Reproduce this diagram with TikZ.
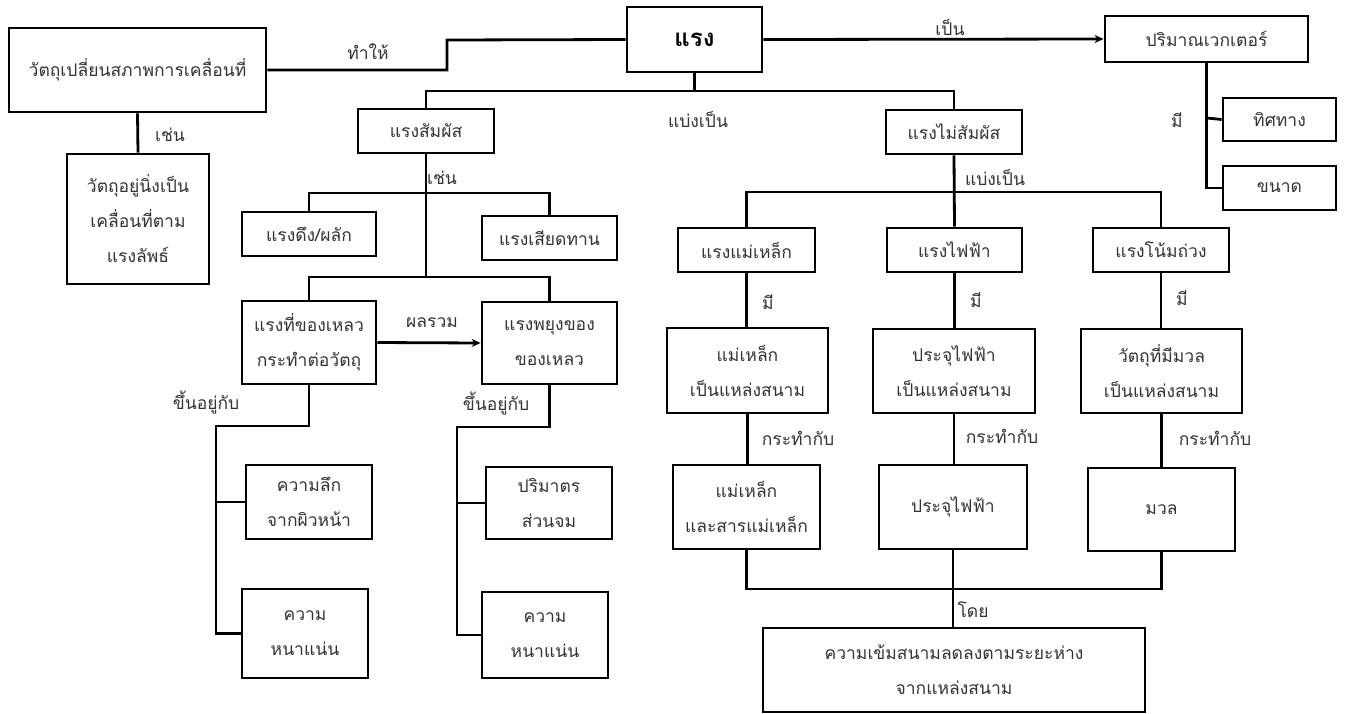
\documentclass[tikz,border=0pt]{standalone}
\usepackage{fontspec}
\newfontfamily\thaifont[Script=Thai]{Loma}
\usetikzlibrary{arrows.meta,calc}
\begin{document}
\begin{tikzpicture}[x=1pt,y=-1pt,
  box/.style={draw=black,line width=2.8pt,inner sep=0pt,align=center,
    text=black!80,font=\thaifont\fontsize{17.5}{35}\selectfont},
  lbl/.style={text=black!80,font=\thaifont\fontsize{17.5}{20}\selectfont,inner sep=1pt},
  conn/.style={line width=2.8pt},
  arr/.style={line width=2.8pt,-{Stealth[length=9pt,width=8pt]}}]
\useasboundingbox (0,0) rectangle (1346,713);
% nodes
\node[box,minimum width=257,minimum height=84] (obj) at (137.5,70) {วัตถุเปลี่ยนสภาพการเคลื่อนที่};
\node[box,minimum width=142,minimum height=130] (still) at (138,219) {วัตถุอยู่นิ่งเป็น\\เคลื่อนที่ตาม\\แรงลัพธ์};
\node[box,minimum width=135,minimum height=65,text=black,font=\thaifont\bfseries\fontsize{24}{28}\selectfont] (force) at (694.5,39.5) {แรง};
\node[box,minimum width=203,minimum height=46] (vector) at (1206.5,39) {ปริมาณเวกเตอร์};
\node[box,minimum width=113,minimum height=43] (dir) at (1279.5,119.5) {ทิศทาง};
\node[box,minimum width=113,minimum height=44] (mag) at (1279.5,188) {ขนาด};
\node[box,minimum width=136,minimum height=44] (contact) at (426,131) {แรงสัมผัส};
\node[box,minimum width=136,minimum height=44] (noncontact) at (954,132) {แรงไม่สัมผัส};
\node[box,minimum width=134,minimum height=44] (pushpull) at (309,234) {แรงดึง/ผลัก};
\node[box,minimum width=135,minimum height=44] (friction) at (549.5,238) {แรงเสียดทาน};
\node[box,minimum width=134,minimum height=83] (fluid) at (309,342.5) {แรงที่ของเหลว\\กระทำต่อวัตถุ};
\node[box,minimum width=135,minimum height=82] (buoy) at (549.5,343) {แรงพยุงของ\\ของเหลว};
\node[box,minimum width=126,minimum height=74] (depth) at (309,502) {ความลึก\\จากผิวหน้า};
\node[box,minimum width=126,minimum height=89] (dens1) at (305,633.5) {ความ\\หนาแน่น};
\node[box,minimum width=126,minimum height=72] (volume) at (549,503) {ปริมาตร\\ส่วนจม};
\node[box,minimum width=126,minimum height=86] (dens2) at (545,635) {ความ\\หนาแน่น};
\node[box,minimum width=137,minimum height=44] (magF) at (746.5,250) {แรงแม่เหล็ก};
\node[box,minimum width=135,minimum height=44] (elecF) at (954.5,250) {แรงไฟฟ้า};
\node[box,minimum width=136,minimum height=44] (gravF) at (1161,250) {แรงโน้มถ่วง};
\node[box,minimum width=161,minimum height=85] (magsrc) at (747.5,370.5) {แม่เหล็ก\\เป็นแหล่งสนาม};
\node[box,minimum width=162,minimum height=84] (elecsrc) at (954,371) {ประจุไฟฟ้า\\เป็นแหล่งสนาม};
\node[box,minimum width=161,minimum height=84] (masssrc) at (1161.5,371) {วัตถุที่มีมวล\\เป็นแหล่งสนาม};
\node[box,minimum width=147,minimum height=84] (magchg) at (746.5,507) {แม่เหล็ก\\และสารแม่เหล็ก};
\node[box,minimum width=148,minimum height=84] (elecchg) at (953,507) {ประจุไฟฟ้า};
\node[box,minimum width=147,minimum height=83] (mass) at (1161.5,509.5) {มวล};
\node[box,minimum width=382,minimum height=84] (field) at (954,670) {ความเข้มสนามลดลงตามระยะห่าง\\จากแหล่งสนาม};
% junction coordinates
\coordinate (j1) at (447,40);
\coordinate (j2) at (694.5,91);
\coordinate (j3) at (426,193);
\coordinate (j4) at (426,277);
\coordinate (j5) at (954,192);
\coordinate (k1) at (216,426);
\coordinate (k2) at (457,427);
\coordinate (m1) at (953,589);
\coordinate (v1) at (1207,118);
% connectors
\draw[conn] (obj.east) -| (j1) -- (force.west);
\draw[arr] (force.east) -- (vector.west);
\draw[conn] (obj.south) -- (still.north);
\draw[conn] (vector.south) |- (mag.west);
\draw[conn] (v1) -- (dir.west);
\draw[conn] (force.south) -- (j2);
\draw[conn] (contact.north) |- (j2) -| (noncontact.north);
\draw[conn] (contact.south) -- (j4);
\draw[conn] (pushpull.north) |- (j3) -| (friction.north);
\draw[conn] (fluid.north) |- (j4) -| (buoy.north);
\draw[arr] (fluid.east) -- (buoy.west);
\draw[conn] (fluid.south) |- (k1) |- (dens1.west);
\draw[conn] (depth.west) -- (depth.west -| k1);
\draw[conn] (buoy.south) |- (k2) |- (dens2.west);
\draw[conn] (volume.west) -- (volume.west -| k2);
\draw[conn] (noncontact.south) -- (elecF.north);
\draw[conn] (magF.north) |- (j5) -| (gravF.north);
\draw[conn] (magF.south) -- (magsrc.north -| magF.south);
\draw[conn] (magsrc.south) -- (magchg.north -| magsrc.south);
\draw[conn] (elecF.south) -- (elecsrc.north -| elecF.south);
\draw[conn] (elecsrc.south) -- (elecchg.north -| elecsrc.south);
\draw[conn] (gravF.south) -- (masssrc.north -| gravF.south);
\draw[conn] (masssrc.south) -- (mass.north -| masssrc.south);
\draw[conn] (magchg.south) |- (m1) -| (mass.south);
\draw[conn] (elecchg.south) -- (field.north -| elecchg.south);
% labels
\node[lbl] (t1) at (368,52) {ทำให้};
\node[lbl] (t2) at (950,27) {เป็น};
\node[lbl] (t3) at (170,135) {เช่น};
\node[lbl] (t4) at (698,119) {แบ่งเป็น};
\node[lbl] (t5) at (442,178) {เช่น};
\node[lbl] (t6) at (995,177) {แบ่งเป็น};
\node[lbl] (t7) at (1177,120) {มี};
\node[lbl] (t8) at (432,323) {ผลรวม};
\node[lbl] (t9) at (206,403) {ขึ้นอยู่กับ};
\node[lbl] (t10) at (496,404) {ขึ้นอยู่กับ};
\node[lbl] (t11) at (768,302) {มี};
\node[lbl] (t12) at (976,300) {มี};
\node[lbl] (t13) at (1182,298) {มี};
\node[lbl] (t14) at (798,438) {กระทำกับ};
\node[lbl] (t15) at (1002,436) {กระทำกับ};
\node[lbl] (t16) at (1215,438) {กระทำกับ};
\node[lbl] (t17) at (973,610) {โดย};
\end{tikzpicture}
\end{document}
